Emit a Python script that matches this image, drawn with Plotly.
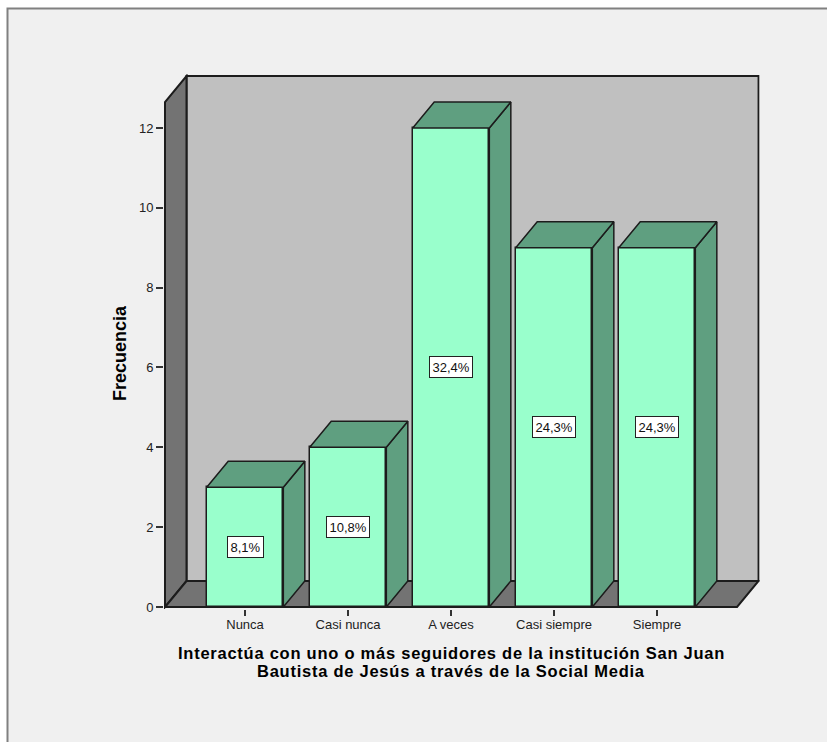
import plotly.graph_objects as go

categories = ["Nunca", "Casi nunca", "A veces", "Casi siempre", "Siempre"]
frequencies = [3, 4, 12, 9, 9]
percent_labels = ["8,1%", "10,8%", "32,4%", "24,3%", "24,3%"]
y_ticks = [0, 2, 4, 6, 8, 10, 12]
x_title_lines = [
    "Interactúa con uno o más seguidores de la institución San Juan",
    "Bautista de Jesús a través de la Social Media",
]

W, H = 827, 742
FONT = "Liberation Sans, Arial, sans-serif"
EDGE = "#1c1c1c"
FRONT = "#99ffcc"
SHADE = "#5f9f80"
WALL = "#c0c0c0"
SIDE_WALL = "#737373"

# Plot scale: one category step and one frequency unit in pixels
STEP_PX = 103.0
UNIT_PX = 39.92
BAR_W = 76.6 / STEP_PX
DX = 21.5 / STEP_PX          # oblique depth along x
DY = 26.0 / UNIT_PX          # oblique depth along y
X0, X1 = -0.777, 4.777       # front edges of the floor
Y_TOP = 12.65                # front top edge of the left wall
PAD_X = 1.0 / STEP_PX
PAD_Y = 2.0 / UNIT_PX

xs = list(range(len(categories)))
x_lo, x_hi = X0 - PAD_X, X1 + DX + PAD_X
y_lo, y_hi = -PAD_Y, Y_TOP + DY + PAD_Y

left_px = 165 - 1
right_px = 165 + (x_hi - X0) * STEP_PX
bottom_px = 607 + 2
top_px = 607 - y_hi * UNIT_PX


def polygon(points, fill):
    path = "M " + " L ".join(f"{x},{y}" for x, y in points) + " Z"
    return dict(type="path", xref="x", yref="y", path=path, fillcolor=fill,
                line=dict(color=EDGE, width=2), layer="below")


shapes = [
    # page background with its thin frame
    dict(type="rect", xref="paper", yref="paper", x0=7.5 / W, x1=1.2,
         y0=-0.2, y1=1 - 8.5 / H, fillcolor="#f0f0f0",
         line=dict(color="#808080", width=2), layer="below"),
    # chart box: back wall, left wall, floor
    polygon([(X0 + DX, DY), (X1 + DX, DY), (X1 + DX, Y_TOP + DY), (X0 + DX, Y_TOP + DY)], WALL),
    polygon([(X0, 0), (X0 + DX, DY), (X0 + DX, Y_TOP + DY), (X0, Y_TOP)], SIDE_WALL),
    polygon([(X0, 0), (X1, 0), (X1 + DX, DY), (X0 + DX, DY)], SIDE_WALL),
]

fig = go.Figure()

# Front faces of the columns
fig.add_trace(go.Bar(x=xs, y=frequencies, width=BAR_W, marker=dict(color=FRONT, line=dict(color=EDGE, width=1.5)),
                     hoverinfo="skip", showlegend=False))

# Right side and top of each column, projected from its value
for x, v in zip(xs, frequencies):
    left, right = x - BAR_W / 2, x + BAR_W / 2
    fig.add_trace(go.Scatter(x=[right, right + DX, right + DX, right, right],
                             y=[0, DY, v + DY, v, 0],
                             mode="lines", fill="toself", fillcolor=SHADE,
                             line=dict(color=EDGE, width=1.5), hoverinfo="skip", showlegend=False))
    fig.add_trace(go.Scatter(x=[left, right, right + DX, left + DX, left],
                             y=[v, v, v + DY, v + DY, v],
                             mode="lines", fill="toself", fillcolor=SHADE,
                             line=dict(color=EDGE, width=1.5), hoverinfo="skip", showlegend=False))

annotations = [
    dict(x=x, y=v / 2, xref="x", yref="y", text=label, showarrow=False,
         font=dict(family=FONT, size=13, color="#111111"), bgcolor="white",
         bordercolor="#222222", borderwidth=1, borderpad=2.5)
    for x, v, label in zip(xs, frequencies, percent_labels)
]
annotations.append(dict(x=120 / W, y=1 - 353 / H, xref="paper", yref="paper", text="<b>Frecuencia</b>",
                        textangle=-90, showarrow=False, xanchor="center", yanchor="middle",
                        font=dict(family=FONT, size=18, color="#000000")))
# The two title lines are tracked out a little and set close together
for line, cy in zip(x_title_lines, [652.5, 671]):
    annotations.append(dict(x=451 / W, y=1 - cy / H, xref="paper", yref="paper",
                            text=f'<span style="letter-spacing:0.75px"><b>{line}</b></span>',
                            showarrow=False, xanchor="center", yanchor="middle",
                            font=dict(family=FONT, size=16.5, color="#000000")))

fig.update_layout(
    template="none",
    width=W, height=H, margin=dict(l=0, r=0, t=0, b=0),
    paper_bgcolor="white", plot_bgcolor="rgba(0,0,0,0)",
    shapes=shapes, annotations=annotations, showlegend=False, bargap=0,
    xaxis=dict(domain=[left_px / W, right_px / W], range=[x_lo, x_hi], automargin=False,
               tickmode="array", tickvals=xs, ticktext=categories, ticks="outside", ticklen=6,
               ticklabelstandoff=-3,
               tickwidth=1.5, tickcolor="#333333", showgrid=False, zeroline=False, showline=False,
               tickfont=dict(family=FONT, size=13, color="#222222")),
    yaxis=dict(domain=[1 - bottom_px / H, 1 - top_px / H], range=[y_lo, y_hi], automargin=False,
               tickmode="array", tickvals=y_ticks, ticks="outside", ticklen=7,
               tickwidth=1.5, tickcolor="#333333", showgrid=False, zeroline=False, showline=False,
               tickfont=dict(family=FONT, size=13, color="#222222")),
)

fig.write_html("out.html", config=dict(displayModeBar=False))
